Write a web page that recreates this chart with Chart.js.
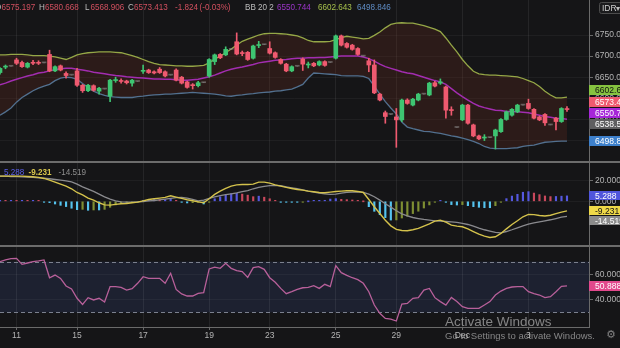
<!DOCTYPE html>
<html>
<head>
<meta charset="utf-8">
<script src="https://cdn.jsdelivr.net/npm/chart.js@4.4.1/dist/chart.umd.min.js"></script>
<style>
  html, body { margin: 0; padding: 0; background: #151517; overflow: hidden; }
  #wrap { position: relative; width: 620px; height: 348px; }
  canvas { position: absolute; left: 0; }
  .sep { position: absolute; left: 0; width: 620px; height: 2px; background: #6c6c6c; }
</style>
</head>
<body>
<div id="wrap">
  <canvas id="price" width="620" height="161" style="top:0px"></canvas>
  <div class="sep" style="top:161px"></div>
  <canvas id="macd" width="620" height="82" style="top:163px"></canvas>
  <div class="sep" style="top:245px"></div>
  <canvas id="rsi" width="620" height="101" style="top:247px"></canvas>
</div>
<script>
// ---- 4h bars, USD/IDR ----
const SLOT_COUNT = 108;
const tickSlots = [3, 14, 26, 38, 49, 61, 72, 84, 96];
const tickNames = ['11', '15', '17', '19', '23', '25', '29', 'Dec', '3'];

const opens = [
  6661, 6674, 6676, 6691, 6685, 6674, 6685, 6685, 6684, 6704,
  6665, 6677, 6659, 6655, 6665, 6631, 6618, 6630, 6617, 6622,
  6605, 6642, 6642, 6641, 6636, 6640, 6664, 6667, 6663, 6669,
  6663, 6655, 6667, 6650, 6639, 6632, 6630, 6637, 6653, 6687,
  6704, 6703, 6716, 6734, 6708, 6709, 6695, 6725, 6727, 6718,
  6708, 6692, 6681, 6665, 6676, 6693, 6679, 6683, 6679, 6687,
  6685, 6695, 6748, 6730, 6726, 6718, 6700, 6689, 6679, 6610,
  6566, 6562, 6556, 6549, 6596, 6584, 6596, 6610, 6608, 6637,
  6636, 6627, 6573, 6531, 6549, 6584, 6537, 6511, 6506, 6507,
  6511, 6521, 6550, 6560, 6568, 6584, 6588, 6574, 6556, 6562,
  6537, 6553, 6545, 6575.197
];
const highs = [
  6673, 6679, 6676, 6695, 6688, 6685, 6690, 6689, 6684, 6714,
  6677, 6679, 6663, 6655, 6671, 6633, 6633, 6632, 6626, 6622,
  6645, 6650, 6646, 6643, 6645, 6640, 6679, 6669, 6665, 6673,
  6665, 6655, 6670, 6652, 6641, 6635, 6640, 6637, 6694, 6705,
  6706, 6722, 6716, 6755, 6712, 6711, 6726, 6735, 6727, 6734,
  6710, 6694, 6683, 6677, 6676, 6696, 6686, 6685, 6689, 6689,
  6685, 6750, 6750, 6732, 6728, 6720, 6700, 6695, 6691, 6612,
  6570, 6562, 6576, 6598, 6599, 6600, 6612, 6610, 6638, 6640,
  6646, 6629, 6580, 6531, 6586, 6586, 6539, 6513, 6514, 6507,
  6527, 6552, 6570, 6576, 6586, 6584, 6598, 6576, 6558, 6564,
  6537, 6555, 6578, 6580.668
];
const lows = [
  6657, 6670, 6676, 6680, 6673, 6672, 6680, 6680, 6684, 6663,
  6663, 6665, 6648, 6655, 6628, 6614, 6616, 6617, 6610, 6622,
  6592, 6638, 6636, 6634, 6629, 6640, 6659, 6659, 6658, 6659,
  6651, 6655, 6641, 6634, 6624, 6622, 6627, 6637, 6650, 6680,
  6694, 6701, 6716, 6703, 6701, 6690, 6693, 6720, 6727, 6705,
  6695, 6681, 6663, 6663, 6676, 6666, 6672, 6675, 6677, 6676,
  6685, 6693, 6724, 6719, 6714, 6702, 6700, 6663, 6611, 6594,
  6541, 6562, 6484, 6545, 6586, 6582, 6594, 6610, 6606, 6627,
  6633, 6553, 6560, 6531, 6547, 6539, 6509, 6502, 6500, 6507,
  6480, 6519, 6548, 6558, 6566, 6584, 6574, 6551, 6547, 6536,
  6537, 6525, 6543, 6568.906
];
const closes = [
  6671, 6676, 6676, 6683, 6675, 6683, 6683, 6683, 6684, 6665,
  6675, 6667, 6654, 6655, 6631, 6618, 6631, 6619, 6624, 6622,
  6643, 6644, 6640, 6637, 6643, 6640, 6666, 6661, 6660, 6661,
  6653, 6655, 6643, 6636, 6626, 6630, 6637, 6637, 6692, 6703,
  6696, 6716, 6716, 6705, 6706, 6692, 6724, 6727, 6727, 6707,
  6697, 6683, 6665, 6675, 6676, 6681, 6681, 6677, 6687, 6678,
  6685, 6748, 6726, 6721, 6716, 6704, 6700, 6679, 6613, 6596,
  6557, 6562, 6549, 6596, 6588, 6598, 6610, 6610, 6636, 6629,
  6639, 6572, 6571, 6531, 6584, 6541, 6511, 6504, 6508, 6507,
  6525, 6550, 6568, 6574, 6584, 6584, 6576, 6553, 6549, 6542,
  6537, 6545, 6576, 6573.413
];
const dayChange = -1.824;
const dayChangePct = -0.03;
const refPrice = 6538.50;

// Bollinger Bands (20, 2)
const bbUpper = [
  6703, 6703, 6704, 6704, 6704, 6703, 6701, 6701, 6701, 6700,
  6698, 6695, 6692, 6697, 6703, 6706, 6708, 6709, 6710, 6710,
  6710, 6709, 6708, 6705, 6701, 6697, 6692, 6687, 6683, 6680,
  6679, 6678, 6677, 6677, 6676, 6676, 6677, 6678, 6684, 6693,
  6700, 6708, 6717, 6726, 6735, 6740, 6745, 6750, 6753, 6754,
  6754, 6753, 6752, 6750, 6748, 6743, 6737, 6734, 6734, 6734,
  6735, 6739, 6744, 6747, 6745, 6743, 6741, 6742, 6749, 6757,
  6767, 6775, 6778, 6779, 6778, 6778, 6775, 6772, 6768, 6764,
  6758, 6743, 6726, 6710, 6692, 6677, 6664, 6658, 6656, 6655,
  6655, 6654, 6653, 6652, 6651, 6647, 6642, 6637, 6628, 6617,
  6608, 6601, 6601, 6602.643
];
const bbBasis = [
  6632, 6636, 6641, 6645, 6649, 6653, 6656, 6660, 6662, 6665,
  6668, 6670, 6671, 6671, 6669, 6667, 6665, 6662, 6660, 6658,
  6656, 6654, 6653, 6651, 6650, 6649, 6648, 6647, 6646, 6646,
  6645, 6645, 6644, 6643, 6643, 6644, 6645, 6648, 6651, 6655,
  6660, 6665, 6669, 6672, 6674, 6677, 6680, 6684, 6686, 6688,
  6690, 6691, 6692, 6694, 6695, 6695, 6696, 6696, 6697, 6697,
  6698, 6699, 6700, 6700, 6700, 6700, 6698, 6694, 6688, 6681,
  6675, 6671, 6667, 6663, 6660, 6658, 6654, 6650, 6646, 6642,
  6639, 6633, 6623, 6613, 6604, 6596, 6588, 6582, 6578, 6575,
  6572, 6571, 6569, 6569, 6568, 6567, 6566, 6563, 6560, 6557,
  6555, 6553, 6552, 6550.744
];
const bbLower = [
  6560, 6568, 6577, 6591, 6602, 6610, 6618, 6624, 6629, 6633,
  6642, 6648, 6650, 6649, 6645, 6635, 6626, 6617, 6611, 6607,
  6604, 6603, 6602, 6602, 6602, 6604, 6605, 6607, 6608, 6609,
  6610, 6610, 6611, 6612, 6613, 6614, 6613, 6612, 6611, 6610,
  6608, 6606, 6605, 6607, 6608, 6610, 6611, 6613, 6614, 6615,
  6617, 6618, 6620, 6622, 6627, 6633, 6648, 6660, 6659, 6658,
  6657, 6656, 6654, 6653, 6653, 6653, 6652, 6647, 6629, 6610,
  6592, 6577, 6563, 6544, 6532, 6528, 6525, 6522, 6521, 6519,
  6517, 6514, 6511, 6509, 6506, 6502, 6498, 6493, 6486, 6482,
  6481, 6481, 6481, 6482, 6483, 6486, 6488, 6489, 6493, 6496,
  6497, 6498, 6498.5, 6498.846
];

// MACD (12, 26, 9)
const macdLine = [
  24.5, 24.5, 24.5, 24.5, 24.5, 24.1, 23.8, 23.2, 22.2, 20.6,
  18.6, 16.7, 14.8, 12.2, 8.6, 6.3, 3.1, 1.2, -1.4, -3.4,
  -3.7, -3.0, -2.4, -2.1, -1.4, -0.8, 0.5, 1.8, 2.5, 3.1,
  3.8, 5.4, 4.1, 2.8, 1.5, 0.5, -0.5, -1.4, 2.5, 6.7,
  9.9, 12.5, 14.8, 16.0, 16.4, 16.4, 16.7, 18.6, 18.6, 17.7,
  16.0, 14.8, 13.5, 12.5, 11.5, 10.9, 9.9, 9.3, 8.6, 8.3,
  8.9, 9.6, 9.9, 10.2, 10.2, 9.6, 8.6, 1.8, -5.3, -11.8,
  -18.3, -23.8, -27.3, -28.3, -28.6, -27.6, -26.3, -24.1, -21.8, -19.2,
  -18.3, -20.2, -23.1, -24.1, -24.7, -26.7, -29.3, -31.8, -33.8, -35.1,
  -34.4, -31.2, -26.7, -22.5, -18.9, -15.0, -12.7, -12.9, -13.8, -14.2,
  -13.5, -12.0, -10.5, -9.231
];
const signalLine = [
  24.5, 24.5, 24.1, 24.1, 23.8, 23.5, 23.2, 22.8, 22.5, 21.9,
  21.2, 20.6, 19.9, 18.9, 16.7, 14.1, 11.8, 9.6, 7.0, 4.4,
  2.1, 0.5, -0.5, -0.8, -0.8, -0.5, -0.2, 0.5, 0.8, 1.5,
  2.1, 2.8, 3.5, 3.8, 3.1, 1.8, 0.5, 1.2, 2.8, 4.2,
  5.5, 6.5, 7.3, 8.2, 9.4, 10.4, 12.2, 13.6, 14.6, 15.2,
  15.5, 15.1, 14.1, 13.1, 12.2, 11.2, 9.9, 8.9, 8.0, 7.3,
  6.7, 7.0, 8.0, 8.6, 8.9, 9.3, 8.6, 7.0, 4.4, 1.2,
  -2.4, -5.6, -9.2, -12.1, -14.1, -15.7, -16.7, -17.6, -18.3, -18.9,
  -19.2, -19.6, -19.9, -20.5, -21.5, -22.5, -24.1, -26.0, -27.6, -28.9,
  -30.2, -30.6, -29.3, -27.6, -25.7, -23.8, -22.1, -20.9, -19.9, -18.9,
  -17.9, -16.7, -15.4, -14.519
];
const macdHist = [
  0.6, 0.5, 0.5, 0.4, 0.4, 0.3, 0.3, 0.2, -0.3, -1.3,
  -2.6, -3.9, -5.1, -6.7, -8.1, -7.8, -8.7, -8.4, -8.4, -7.8,
  -5.8, -3.5, -1.9, -1.3, -0.6, -0.3, 0.7, 1.3, 1.7, 1.6,
  1.7, 2.6, 0.6, -1.0, -1.6, -1.3, -1.0, -2.6, -0.3, 2.5,
  4.4, 6.0, 7.5, 7.8, 7.0, 6.0, 4.5, 5.0, 4.0, 2.5,
  0.5, -0.3, -0.6, -0.6, -0.7, -0.3, 0.0, 0.4, 0.6, 1.0,
  2.2, 2.6, 1.9, 1.6, 1.3, 0.3, 0.0, -5.2, -9.7, -13.0,
  -15.9, -18.2, -18.1, -16.2, -14.5, -11.9, -9.6, -6.5, -3.5, -0.3,
  0.9, -0.6, -3.2, -3.6, -3.2, -4.2, -5.2, -5.8, -6.2, -6.2,
  -4.2, -0.6, 2.6, 5.1, 6.8, 8.8, 9.4, 8.0, 6.5, 5.2,
  4.6, 4.7, 5.0, 5.288
];

// RSI (14)
const rsiLine = [
  69.9, 71.3, 72.3, 72.6, 67.8, 68.9, 69.9, 70.5, 71.3, 57.3,
  59.4, 56.8, 50.8, 48.4, 41.1, 36.3, 41.6, 39.8, 41.1, 38.2,
  50.3, 50.3, 49.7, 47.6, 48.7, 52.9, 58.1, 56.8, 56.8, 56.8,
  52.9, 60.8, 48.1, 44.5, 42.9, 42.9, 45.0, 45.5, 64.2, 65.7,
  64.7, 68.6, 64.7, 62.9, 62.1, 57.6, 65.2, 66.0, 63.9, 57.3,
  53.7, 48.9, 44.7, 46.3, 48.1, 49.4, 49.7, 51.0, 48.9, 52.1,
  50.3, 66.8, 61.3, 59.2, 57.3, 55.8, 52.9, 46.3, 35.8, 29.3,
  25.3, 24.7, 23.2, 36.6, 37.1, 41.1, 41.6, 47.6, 48.9, 41.6,
  38.5, 35.8, 41.8, 38.5, 34.5, 33.2, 33.2, 33.2, 35.8, 38.5,
  43.7, 46.8, 48.9, 50.0, 50.3, 50.3, 46.3, 44.7, 43.7, 41.6,
  42.4, 46.3, 50.5, 50.8884
];
const rsiUpperLevel = 70;
const rsiLowerLevel = 30;

// ---- shared setup ----
Chart.defaults.font.family = '"Liberation Sans", Arial, sans-serif';
Chart.defaults.color = '#b4b4b4';

const slotLabels = Array.from({ length: SLOT_COUNT }, (_, i) => {
  const j = tickSlots.indexOf(i);
  return j >= 0 ? tickNames[j] : '';
});
const last = closes.length - 1;

const UP = '#3ec572', DOWN = '#ef5a70', FLAT = 'rgba(150,150,150,0.55)';
const candleColor = i => closes[i] > opens[i] ? UP : (closes[i] < opens[i] ? DOWN : FLAT);
const histColor = i => {
  const v = macdHist[i], p = i > 0 ? macdHist[i - 1] : v;
  if (v >= 0) return v >= p ? '#5558e0' : '#c9485c';
  return v <= p ? '#55c3ee' : '#7f8f33';
};

const trunc = (v, d) => (Math.trunc(v * Math.pow(10, d)) / Math.pow(10, d)).toFixed(d);

function xScale(showLabels) {
  const isMarked = c => c.tick && c.tick.label;
  return {
    type: 'category',
    offset: false,
    grid: {
      offset: false,
      color: c => isMarked(c) ? 'rgba(255,255,255,0.07)' : 'rgba(0,0,0,0)',
      drawTicks: showLabels,
      tickLength: 3,
      tickColor: c => isMarked(c) ? '#6a6a6a' : 'rgba(0,0,0,0)'
    },
    border: { display: showLabels, color: '#6a6a6a' },
    ticks: {
      display: showLabels, autoSkip: false, maxRotation: 0, minRotation: 0,
      color: '#b4b4b4', font: { size: 8.5 }, padding: 1
    },
    afterFit: s => { s.height = showLabels ? 21 : 0; s.paddingLeft = 0; s.paddingRight = 0; }
  };
}

function yScale(min, max, tickValues, decimals) {
  return {
    position: 'right', min, max,
    afterBuildTicks: s => { s.ticks = tickValues.map(v => ({ value: v })); },
    ticks: { color: '#b4b4b4', font: { size: 8.5 }, padding: 2, callback: v => Number(v).toFixed(decimals) },
    grid: { color: 'rgba(255,255,255,0.045)', tickColor: '#6a6a6a', tickLength: 4 },
    border: { display: true, color: '#6a6a6a' },
    afterFit: s => { s.width = 31; s.paddingTop = 0; s.paddingBottom = 0; }
  };
}

const baseOptions = {
  responsive: false,
  animation: false,
  devicePixelRatio: 1,
  events: [],
  layout: { padding: 0 },
  plugins: { legend: { display: false }, tooltip: { enabled: false } }
};

function text(ctx, s, x, y, color, font, squeeze) {
  ctx.save();
  ctx.font = font;
  ctx.fillStyle = color;
  ctx.textBaseline = 'middle';
  ctx.textAlign = 'left';
  ctx.translate(x, y);
  ctx.scale(squeeze || 1, 1);
  ctx.fillText(s, 0, 0);
  ctx.restore();
}

// value tags on the right-hand scale, pushed apart when they collide
function drawTags(chart, items, direction, height, spacing) {
  const { ctx, chartArea } = chart;
  const yS = chart.scales.y;
  const list = items.map(it => Object.assign({}, it, { py: yS.getPixelForValue(it.value) }))
                    .sort((a, b) => a.py - b.py);
  if (direction === 'up') {
    for (let i = list.length - 2; i >= 0; i--) list[i].py = Math.min(list[i].py, list[i + 1].py - spacing);
  } else {
    for (let i = 1; i < list.length; i++) list[i].py = Math.max(list[i].py, list[i - 1].py + spacing);
  }
  list.forEach(it => {
    ctx.fillStyle = it.bg;
    ctx.fillRect(chartArea.right, Math.round(it.py - height / 2), chart.width - chartArea.right, height);
    text(ctx, it.text, chartArea.right + 6, it.py + 0.5, it.fg, '9px "Liberation Sans"', 0.95);
  });
}

// ---- price panel ----
const priceOverlay = {
  id: 'priceOverlay',
  afterDraw(chart) {
    const ctx = chart.ctx;
    const f = '9px "Liberation Sans"';
    const red = '#d2505f', grey = '#bdbdbd';
    const y = 7.5;
    text(ctx, 'O', -5, y, grey, f, 0.9);
    text(ctx, opens[last].toFixed(3), 1.5, y, red, f, 0.9);
    text(ctx, 'H', 39, y, grey, f, 0.9);
    text(ctx, highs[last].toFixed(3), 45, y, red, f, 0.9);
    text(ctx, 'L', 85, y, grey, f, 0.9);
    text(ctx, lows[last].toFixed(3), 90.5, y, red, f, 0.9);
    text(ctx, 'C', 128, y, grey, f, 0.9);
    text(ctx, closes[last].toFixed(3), 134, y, red, f, 0.9);
    text(ctx, dayChange.toFixed(3), 175, y, red, f, 0.9);
    text(ctx, '(' + dayChangePct.toFixed(2) + '%)', 199.5, y, red, f, 0.9);
    text(ctx, 'BB 20 2', 245, y, grey, f, 0.9);
    text(ctx, bbBasis[last].toFixed(3), 277, y, '#9b35c9', f, 0.9);
    text(ctx, bbUpper[last].toFixed(3), 318, y, '#a6c04c', f, 0.9);
    text(ctx, bbLower[last].toFixed(3), 357, y, '#5f8cc4', f, 0.9);

    // currency selector
    ctx.save();
    ctx.strokeStyle = '#4c4c4c';
    ctx.fillStyle = '#1b1b1d';
    ctx.lineWidth = 1;
    ctx.beginPath();
    ctx.roundRect(599.5, 2.5, 30, 11, 2);
    ctx.fill();
    ctx.stroke();
    ctx.restore();
    text(ctx, 'IDR', 602, 8.5, '#cfcfcf', '8.5px "Liberation Sans"', 1);
    text(ctx, '\u25BE', 616, 8.5, '#bdbdbd', '8px "DejaVu Sans"', 1);

    drawTags(chart, [
      { value: bbUpper[last], text: trunc(bbUpper[last], 2), bg: '#86c340', fg: '#111' },
      { value: closes[last], text: trunc(closes[last], 2), bg: '#ef5a70', fg: '#fff' },
      { value: bbBasis[last], text: trunc(bbBasis[last], 2), bg: '#a626d8', fg: '#fff' },
      { value: refPrice, text: trunc(refPrice, 2), bg: '#5e5e60', fg: '#fff' },
      { value: bbLower[last], text: trunc(bbLower[last], 2), bg: '#3d80cc', fg: '#fff' }
    ], 'up', 10, 11.3);
  }
};

new Chart(document.getElementById('price'), {
  type: 'bar',
  data: {
    labels: slotLabels,
    datasets: [
      { label: 'Body', data: opens.map((o, i) => [o, closes[i]]),
        backgroundColor: c => candleColor(c.dataIndex), barThickness: 4, grouped: false, minBarLength: 1, order: 0 },
      { label: 'Wick', data: lows.map((l, i) => [l, highs[i]]),
        backgroundColor: c => candleColor(c.dataIndex), barThickness: 1, grouped: false, order: 1 },
      { type: 'line', label: 'BB upper', data: bbUpper, borderColor: '#95a747', borderWidth: 1.3,
        pointRadius: 0, tension: 0, fill: '+2', backgroundColor: 'rgba(112,46,30,0.26)', order: 4 },
      { type: 'line', label: 'BB basis', data: bbBasis, borderColor: '#a22db0', borderWidth: 1.5,
        pointRadius: 0, tension: 0, fill: false, order: 3 },
      { type: 'line', label: 'BB lower', data: bbLower, borderColor: '#52708f', borderWidth: 1.3,
        pointRadius: 0, tension: 0, fill: false, order: 2 }
    ]
  },
  options: Object.assign({}, baseOptions, {
    scales: {
      x: xScale(false),
      y: yScale(6451.6, 6832.9, [6500, 6550, 6600, 6650, 6700, 6750], 2)
    }
  }),
  plugins: [priceOverlay]
});

// ---- MACD panel ----
const macdOverlay = {
  id: 'macdOverlay',
  afterDraw(chart) {
    const ctx = chart.ctx;
    const y = 10;
    text(ctx, macdHist[last].toFixed(3), 4, y, '#5a5fe6', '9px "Liberation Sans"', 0.9);
    text(ctx, macdLine[last].toFixed(3), 28.5, y, '#d8c64c', 'bold 9px "Liberation Sans"', 0.9);
    text(ctx, signalLine[last].toFixed(3), 58.5, y, '#8f8f8f', '9px "Liberation Sans"', 0.9);
    drawTags(chart, [
      { value: macdHist[last], text: macdHist[last].toFixed(3), bg: '#5055dc', fg: '#fff' },
      { value: macdLine[last], text: macdLine[last].toFixed(3), bg: '#efd948', fg: '#111' },
      { value: signalLine[last], text: signalLine[last].toFixed(3), bg: '#8b8b8b', fg: '#fff' }
    ], 'down', 9, 10);
  }
};

new Chart(document.getElementById('macd'), {
  type: 'bar',
  data: {
    labels: slotLabels,
    datasets: [
      { type: 'line', label: 'MACD', data: macdLine, borderColor: '#d4c24c', borderWidth: 1.4,
        pointRadius: 0, tension: 0, order: 0 },
      { type: 'line', label: 'Signal', data: signalLine, borderColor: '#8a8a8e', borderWidth: 1.3,
        pointRadius: 0, tension: 0, order: 1 },
      { label: 'Histogram', data: macdHist, backgroundColor: c => histColor(c.dataIndex),
        barThickness: 1.5, grouped: false, minBarLength: 1, order: 2 }
    ]
  },
  options: Object.assign({}, baseOptions, {
    scales: {
      x: xScale(false),
      y: yScale(-42.4, 37.2, [0, 20], 3)
    }
  }),
  plugins: [macdOverlay]
});

// ---- RSI panel ----
const rsiOverlay = {
  id: 'rsiOverlay',
  beforeDraw(chart) {
    const { ctx, chartArea } = chart;
    const yS = chart.scales.y;
    const top = yS.getPixelForValue(rsiUpperLevel), bottom = yS.getPixelForValue(rsiLowerLevel);
    ctx.save();
    ctx.fillStyle = '#1d2130';
    ctx.fillRect(chartArea.left, top, chartArea.right - chartArea.left, bottom - top);
    ctx.restore();
  },
  beforeDatasetsDraw(chart) {
    const { ctx, chartArea } = chart;
    const yS = chart.scales.y;
    ctx.save();
    ctx.strokeStyle = '#7b808e';
    ctx.lineWidth = 1;
    ctx.setLineDash([4, 3]);
    [rsiUpperLevel, rsiLowerLevel].forEach(v => {
      const py = Math.round(yS.getPixelForValue(v)) + 0.5;
      ctx.beginPath();
      ctx.moveTo(chartArea.left, py);
      ctx.lineTo(chartArea.right, py);
      ctx.stroke();
    });
    ctx.restore();
  },
  afterDraw(chart) {
    const ctx = chart.ctx;
    drawTags(chart, [
      { value: rsiLine[last], text: rsiLine[last].toFixed(4), bg: '#e2488c', fg: '#fff' }
    ], 'down', 10, 11);
    // system overlay text along the lower edge
    text(ctx, 'Activate Windows', 445, 75, 'rgba(200,200,200,0.62)', '13.5px "Liberation Sans"', 1);
    text(ctx, 'Go to Settings to activate Windows.', 445, 89, 'rgba(200,200,200,0.62)', '9.5px "Liberation Sans"', 1);
    text(ctx, '\u2699', 606, 88, 'rgba(200,200,200,0.6)', '11px "DejaVu Sans"', 1);
  }
};

new Chart(document.getElementById('rsi'), {
  type: 'line',
  data: {
    labels: slotLabels,
    datasets: [
      { label: 'RSI', data: rsiLine, borderColor: '#b8609a', borderWidth: 1.3, pointRadius: 0, tension: 0 }
    ]
  },
  options: Object.assign({}, baseOptions, {
    scales: {
      x: xScale(true),
      y: yScale(18.5, 81.5, [40, 60], 4)
    }
  }),
  plugins: [rsiOverlay]
});
</script>
</body>
</html>
